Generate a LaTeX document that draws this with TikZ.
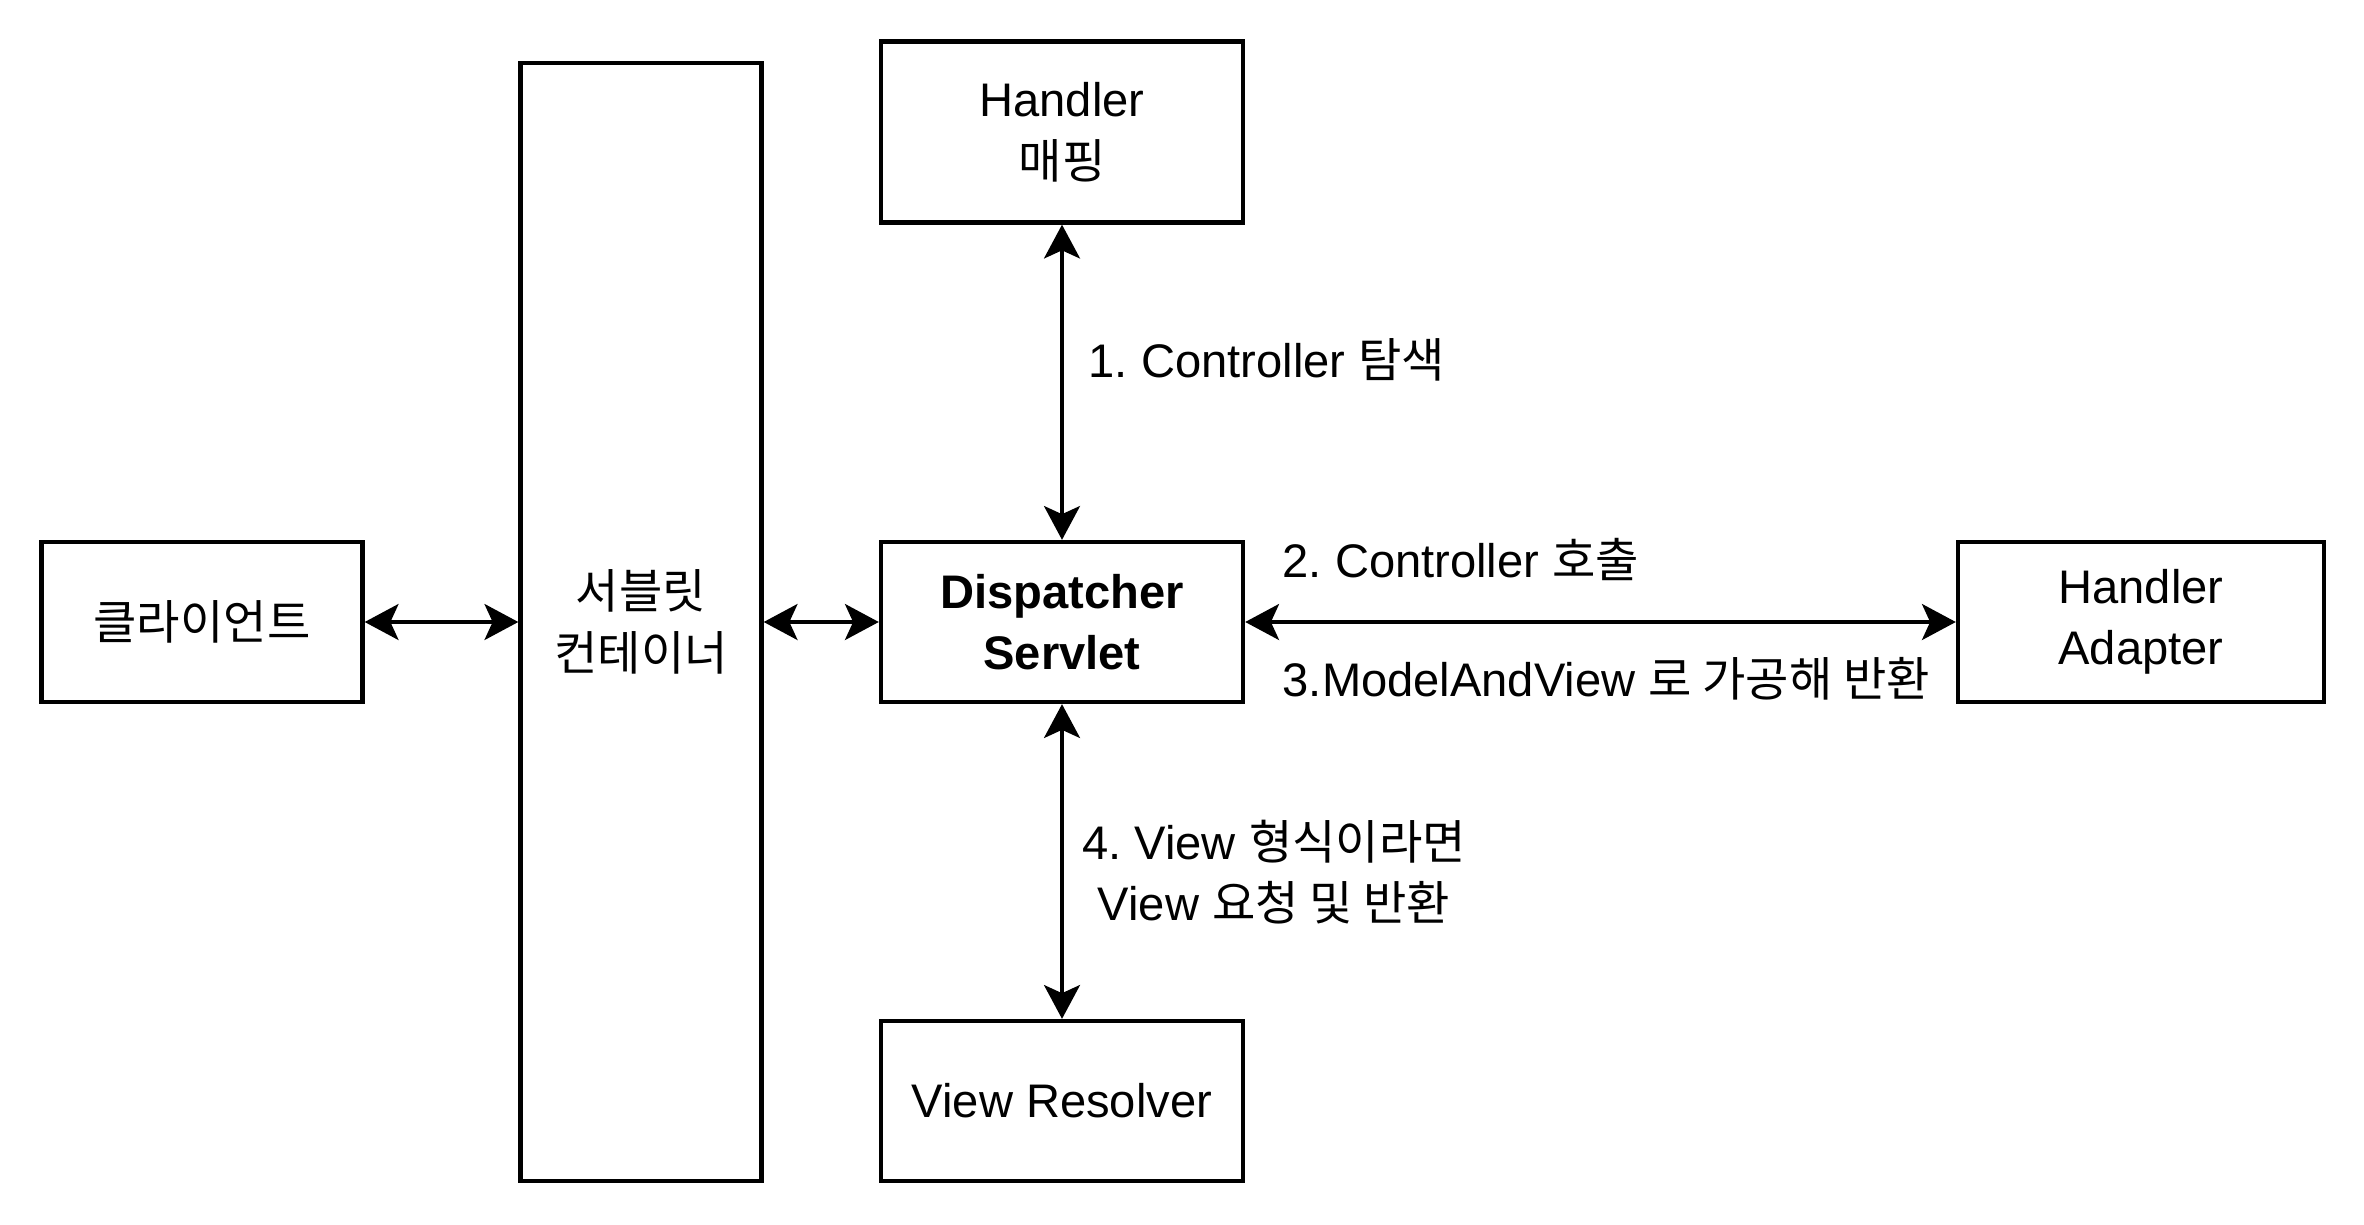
\documentclass[tikz,border=0pt]{standalone}
\usepackage{fontspec}
\setmainfont{Liberation Sans}
\newfontfamily\kr{Noto Sans CJK KR}
\usetikzlibrary{arrows.meta}
\frenchspacing

\begin{document}
\begin{tikzpicture}[x=0.01cm,y=-0.01cm,>={Stealth[length=9.6pt,width=10.2pt,inset=2.3pt]},
    every node/.style={font=\fontsize{13.4pt}{17.5pt}\selectfont},
    box/.style={draw,line width=1.2pt,align=center,inner sep=0pt},
    lbl/.style={align=center,inner sep=0pt},
    link/.style={<->,line width=1.15pt}]
    \useasboundingbox (0,0) rectangle (2364,1224) ;
    \node [box,minimum width=3.21cm,minimum height=1.6cm] (client) at (202,622) {\kr 클라이언트} ;
    \node [box,minimum width=2.41cm,minimum height=11.18cm] (container) at (641,622) {\kr 서블릿\\\kr 컨테이너} ;
    \node [box,minimum width=3.62cm,minimum height=1.81cm] (mapping) at (1062,132) {Handler\\\kr 매핑} ;
    \node [box,minimum width=3.62cm,minimum height=1.6cm] (dispatcher) at (1062,622) {\bfseries Dispatcher\\\bfseries Servlet} ;
    \node [box,minimum width=3.66cm,minimum height=1.6cm] (adapter) at (2141,622) {Handler\\Adapter} ;
    \node [box,minimum width=3.62cm,minimum height=1.6cm] (resolver) at (1062,1101) {View Resolver} ;
    \draw [link] (client) -- (container) ;
    \draw [link] (container) -- (dispatcher) ;
    \draw [link] (mapping) -- (dispatcher) ;
    \draw [link] (dispatcher) -- (adapter) ;
    \draw [link] (dispatcher) -- (resolver) ;
    \node [lbl] (find) at (1267,360) {1. Controller {\kr 탐색}} ;
    \node [lbl,anchor=west] (call) at (1282,559) {2. Controller {\kr 호출}} ;
    \node [lbl,anchor=west] (back) at (1282,679) {3.ModelAndView {\kr 로 가공해 반환}} ;
    \node [lbl] (view) at (1274,872) {4. View {\kr 형식이라면}\\View {\kr 요청 및 반환}} ;
  \end{tikzpicture}
\end{document}
